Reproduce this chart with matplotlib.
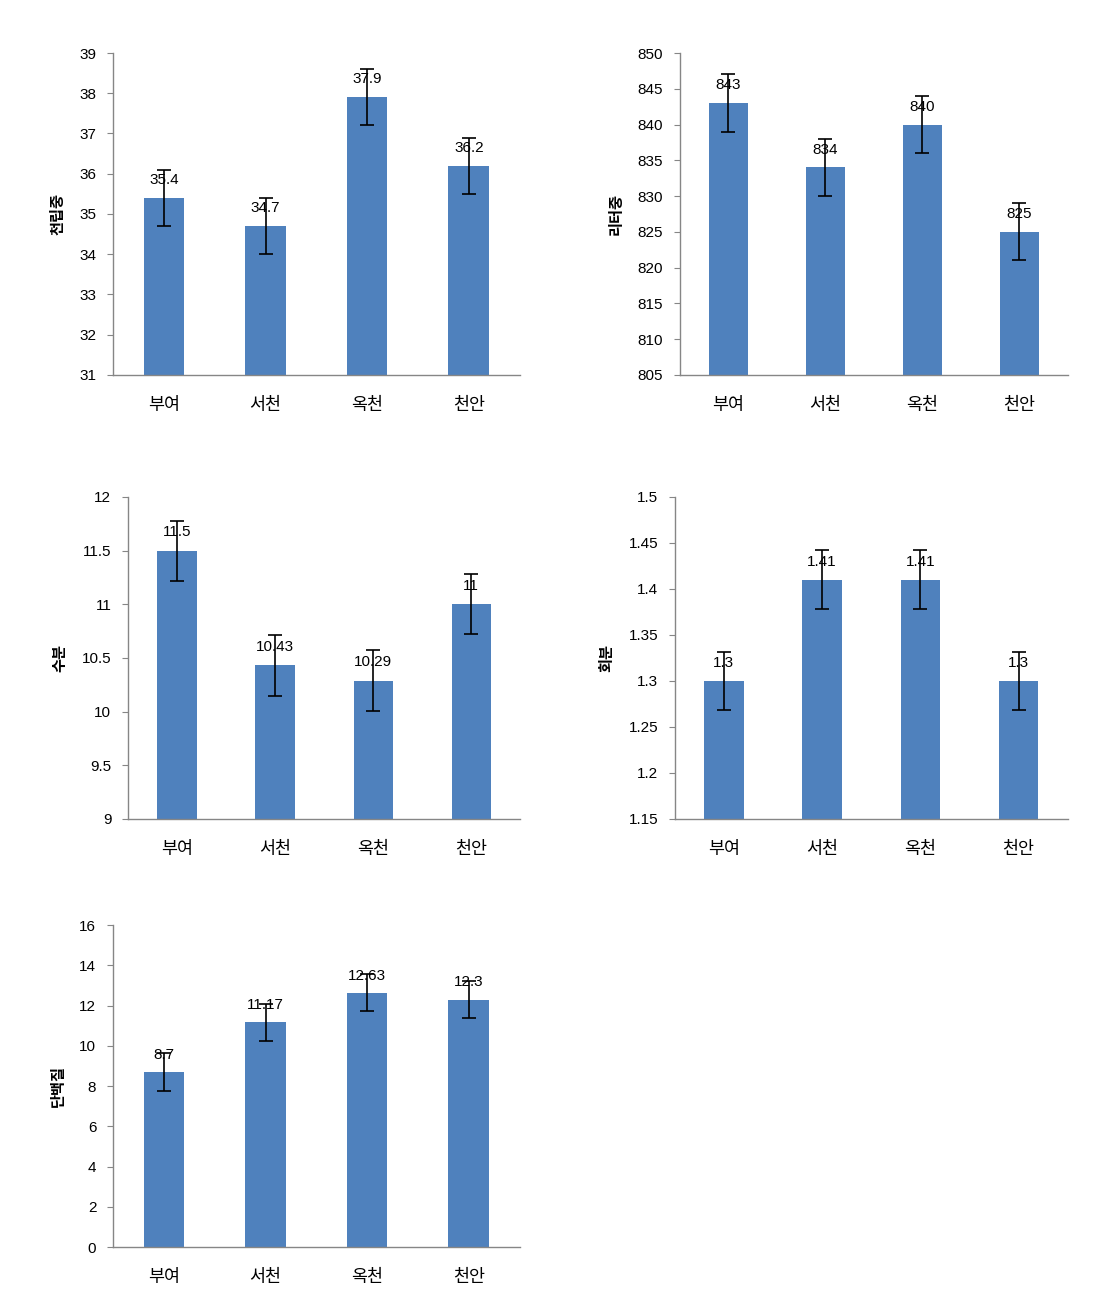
import matplotlib
matplotlib.use("Agg")
import matplotlib.pyplot as plt

plt.rcParams['font.family'] = ['Liberation Sans', 'Noto Sans CJK KR', 'DejaVu Sans']

regions = ["부여", "서천", "옥천", "천안"]

grain_weight = [35.4, 34.7, 37.9, 36.2]
grain_weight_err = [0.7, 0.7, 0.7, 0.7]

liter_weight = [843, 834, 840, 825]
liter_weight_err = [4, 4, 4, 4]

moisture = [11.5, 10.43, 10.29, 11]
moisture_err = [0.28, 0.28, 0.28, 0.28]

ash = [1.3, 1.41, 1.41, 1.3]
ash_err = [0.032, 0.032, 0.032, 0.032]

protein = [8.7, 11.17, 12.63, 12.3]
protein_err = [0.95, 0.92, 0.92, 0.92]

bar_color = '#4F81BD'
axis_color = '#868686'

panels = [
    # label, values, errors, ylim, step, axes rect, label offset (data units)
    ("천립중", grain_weight, grain_weight_err, (31, 39), 1, [0.102, 0.7142, 0.367, 0.2454], 0.45),
    ("리터중", liter_weight, liter_weight_err, (805, 850), 5, [0.6137, 0.7142, 0.350, 0.2454], 2.5),
    ("수분", moisture, moisture_err, (9, 12), 0.5, [0.1155, 0.3758, 0.354, 0.2454], 0.17),
    ("회분", ash, ash_err, (1.15, 1.5), 0.05, [0.609, 0.3758, 0.3547, 0.2454], 0.019),
    ("단백질", protein, protein_err, (0, 16), 2, [0.102, 0.0495, 0.367, 0.2454], 0.85),
]

fig = plt.figure(figsize=(11.08, 13.12), dpi=100)

for label, vals, errs, ylim, step, rect, off in panels:
    ax = fig.add_axes(rect)
    x = list(range(len(regions)))
    ax.bar(x, vals, width=0.4, color=bar_color, zorder=2)
    ax.errorbar(x, vals, yerr=errs, fmt='none', ecolor='black',
                elinewidth=1.2, capsize=5, capthick=1.2, zorder=3)
    for xi, v in zip(x, vals):
        ax.text(xi, v + off, f"{v:g}", ha='center', va='center',
                fontsize=11, zorder=4)
    ax.set_xlim(-0.5, len(regions) - 0.5)
    ax.set_ylim(*ylim)
    ticks = []
    t = ylim[0]
    while t <= ylim[1] + step / 1000:
        ticks.append(round(t, 4))
        t += step
    ax.set_yticks(ticks)
    ax.set_yticklabels([f"{t:g}" for t in ticks], fontsize=11)
    ax.set_xticks(x)
    ax.set_xticklabels(regions, fontsize=12.5)
    ax.tick_params(axis='x', length=0, pad=16)
    ax.tick_params(axis='y', length=4, color=axis_color, direction='out', pad=8)
    for s in ['top', 'right']:
        ax.spines[s].set_visible(False)
    for s in ['left', 'bottom']:
        ax.spines[s].set_color(axis_color)
        ax.spines[s].set_linewidth(1)
    ax.set_ylabel(label, fontsize=11, fontweight='bold', labelpad=10)

fig.savefig("out.png", dpi=100)
